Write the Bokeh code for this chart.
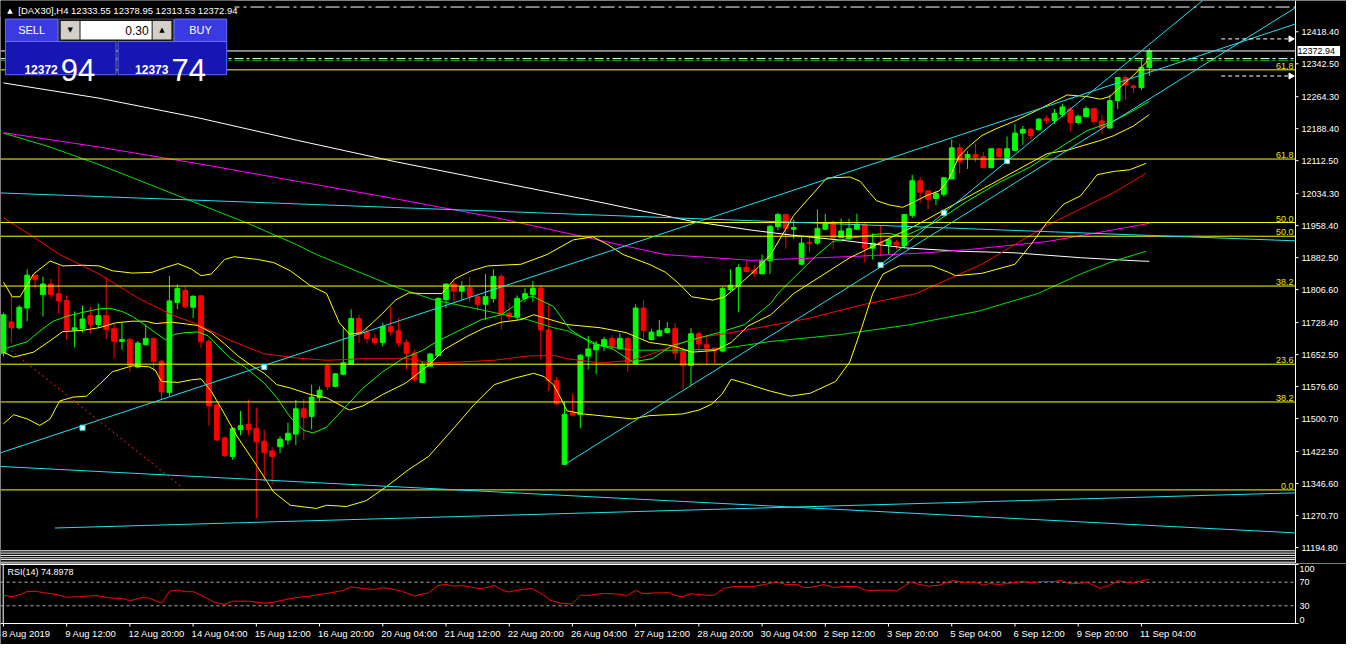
from bokeh.plotting import figure
from bokeh.models import ColumnDataSource, Range1d, Label, BoxAnnotation
from bokeh.layouts import column
from bokeh.embed import file_html
from bokeh.resources import INLINE

# ---------------- DATA ----------------
OPEN = [11656,11730,11716,11763,11841,11795,11820,11797,11781,11711,
        11714,11745,11724,11745,11714,11684,11688,11623,11676,11691,
        11637,11563,11776,11805,11765,11792,11684,11533,11455,11411,
        11475,11487,11477,11447,11424,11434,11450,11464,11524,11506,
        11550,11626,11577,11606,11630,11738,11706,11691,11681,11719,
        11709,11681,11656,11586,11625,11650,11783,11820,11803,11811,
        11790,11772,11786,11838,11751,11742,11786,11795,11810,11711,
        11591,11392,11514,11510,11649,11664,11672,11691,11666,11691,
        11631,11763,11688,11697,11705,11714,11660,11627,11702,11676,
        11668,11661,11807,11815,11859,11853,11844,11875,11956,11985,
        11950,11867,11919,11917,11950,11967,11930,11927,11950,11961,
        11905,11919,11913,11919,11911,11983,12065,12041,12023,12033,
        12069,12143,12120,12127,12122,12096,12141,12120,12137,12178,
        12187,12186,12212,12208,12222,12235,12203,12217,12236,12207,
        12190,12255,12310,12290,12286,12333.55]
HIGH = [11752,11797,11770,11855,11842,11838,11832,11863,11793,11755,
        11769,11766,11774,11837,11726,11728,11693,11685,11724,11693,
        11641,11839,11819,11814,11793,11792,11689,11536,11458,11481,
        11519,11546,11527,11474,11433,11459,11491,11545,11547,11581,
        11577,11631,11609,11719,11760,11747,11718,11701,11728,11766,
        11739,11688,11664,11637,11657,11788,11822,11828,11827,11837,
        11797,11844,11855,11844,11776,11793,11810,11827,11817,11774,
        11600,11541,11560,11653,11697,11685,11695,11698,11703,11694,
        11772,11782,11714,11735,11730,11728,11670,11716,11707,11697,
        11668,11813,11855,11867,11875,11865,11890,11960,11989,11985,
        11973,11931,11933,11997,11987,11971,11975,11975,11987,11966,
        11940,11958,11925,11925,11985,12079,12073,12041,12041,12072,
        12163,12153,12135,12153,12133,12141,12141,12170,12199,12195,
        12191,12214,12220,12235,12248,12240,12222,12242,12238,12221,
        12269,12311,12315,12293,12354,12378.95]
LOW = [11648,11680,11712,11732,11809,11743,11786,11749,11688,11670,
       11705,11703,11716,11689,11644,11664,11612,11620,11674,11612,
       11544,11554,11760,11763,11739,11668,11484,11448,11410,11403,
       11461,11461,11264,11352,11345,11419,11439,11438,11450,11475,
       11542,11569,11575,11603,11628,11680,11680,11675,11672,11698,
       11672,11617,11587,11585,11623,11649,11763,11778,11782,11778,
       11757,11735,11776,11712,11735,11735,11778,11778,11641,11566,
       11532,11392,11509,11478,11617,11606,11661,11664,11664,11612,
       11630,11688,11687,11695,11702,11640,11571,11577,11666,11631,
       11631,11658,11803,11753,11848,11837,11844,11844,11948,11904,
       11927,11865,11896,11913,11948,11902,11929,11925,11948,11871,
       11878,11886,11890,11902,11905,11977,12012,11997,12007,12027,
       12069,12082,12093,12109,12096,12096,12122,12120,12137,12151,
       12164,12184,12200,12200,12215,12182,12198,12217,12198,12176,
       12190,12235,12257,12273,12280,12313.53]
CLOSE = [11747,11716,11765,11841,11831,11820,11795,11780,11711,11716,
         11737,11724,11745,11712,11684,11688,11627,11680,11691,11637,
         11564,11780,11809,11766,11791,11683,11531,11450,11413,11477,
         11484,11475,11446,11420,11411,11452,11466,11524,11504,11552,
         11568,11577,11607,11633,11738,11701,11691,11681,11719,11707,
         11680,11656,11594,11629,11654,11786,11820,11803,11814,11790,
         11772,11790,11838,11747,11742,11786,11797,11810,11711,11591,
         11536,11511,11509,11651,11666,11676,11688,11672,11691,11634,
         11763,11710,11706,11710,11714,11656,11627,11702,11678,11668,
         11663,11809,11817,11859,11850,11845,11875,11957,11985,11952,
         11954,11917,11916,11952,11963,11929,11946,11952,11962,11905,
         11917,11917,11925,11913,11985,12065,12038,12021,12035,12072,
         12143,12110,12127,12120,12096,12141,12122,12141,12178,12187,
         12172,12211,12208,12225,12240,12203,12218,12236,12205,12190,
         12255,12310,12292,12286,12334,12372.94]

TIME_TICKS = [0, 8, 16, 24, 32, 40, 48, 56, 64, 72, 80, 88, 96, 104, 112, 120, 128, 136, 144]
TIME_LABELS = ["8 Aug 2019", "9 Aug 12:00", "12 Aug 20:00", "14 Aug 04:00", "15 Aug 12:00",
               "16 Aug 20:00", "20 Aug 04:00", "21 Aug 12:00", "22 Aug 20:00", "26 Aug 04:00",
               "27 Aug 12:00", "28 Aug 20:00", "30 Aug 04:00", "2 Sep 12:00", "3 Sep 20:00",
               "5 Sep 04:00", "6 Sep 12:00", "9 Sep 20:00", "11 Sep 04:00"]
PRICE_TICKS = [11194.8, 11270.7, 11346.6, 11422.5, 11500.7, 11576.6, 11652.5, 11728.4, 11806.6,
               11882.5, 11958.4, 12034.3, 12112.5, 12188.4, 12264.3, 12342.5, 12418.4]

# Bollinger upper / middle / lower (yellow)
BBU_BAR = [0,1.1,2.1,3.8,5.9,7.5,10,12.1,13.8,16.3,18.8,20.5,22.1,23.8,25,26.3,28,29.2,32.1,34.2,
           36.3,38.8,40.9,42.5,43.8,45.3,46.7,48,49.6,51.3,53,55.5,57.1,59.2,61.3,65.5,68.8,72.1,74.6,76.5,
           78.4,81.7,83.8,85.5,87.1,89.8,91.3,93,95.5,97.1,100,104.2,107.1,108.4,109.6,110.5,112.1,113.8,115,116.7,
           118.4,119.6,120.9,122.1,123.8,125.5,128,130.9,134.6,137.1,138.8,140,140.9,143,144.6,145]
BBU_P = [11824.5,11789.7,11789.7,11843.7,11874.6,11863,11864.6,11863,11851.4,11846,
         11847.7,11859.3,11868.5,11855.3,11839.8,11843.7,11878.5,11884.7,11878.5,11870.8,
         11851.4,11816.6,11797.4,11727.9,11700.7,11704.7,11727.9,11751,11781.9,11799,
         11797.4,11797.4,11832.1,11851.4,11863,11866.9,11890.1,11924.8,11931.8,11913.2,
         11890.1,11866.9,11847.7,11820.5,11789.7,11781.9,11789.7,11816.6,11859.3,11890.1,
         11982.8,12071.5,12073.8,12063.9,12036.8,12017.5,12007.6,12002,12012.2,12029.1,
         12040.7,12067.8,12121.8,12145,12172.1,12187.4,12206.9,12233,12268.5,12264.8,
         12258.5,12264.8,12280.1,12314.9,12345.9,12358.2]
BBM_BAR = [0,1.3,3.8,5.9,7.5,10,12.1,14.2,16.3,18,19.2,21.3,23,24.6,26.3,28,29.6,31.3,33,34.6,
           36.3,38.8,40.9,43.8,45.5,48,50.9,53.8,55.9,58.8,60.9,63,65.5,67.1,71.3,75.5,78.8,81.7,84.6,87.1,
           90,92.1,94.2,97.1,100,107.1,115.5,123.8,132.1,134.6,138.8,140.5,143,145]
BBM_P = [11658.3,11646.7,11658.3,11685.4,11707,11710,11716.3,11727.9,11731.8,11731.8,
         11726.2,11729.5,11725.5,11721.6,11704.7,11677.6,11650.7,11627.5,11608.1,11581.2,
         11573.3,11558,11550.1,11520.9,11530.9,11558,11585,11627.5,11666,11697,
         11716.3,11729.5,11735.5,11747.1,11723.9,11716.3,11704.7,11681.5,11673.8,11658.3,
         11662.3,11681.5,11720.2,11747.1,11797.4,11882.4,11959.6,12044.7,12129.5,12137.3,
         12160.5,12172,12195,12222]
BBL_BAR = [0,1.3,3,4.6,5.9,7.1,8.8,10.5,12.1,13.8,16.3,18.4,19.2,20,22.1,23.8,25,26.3,27.5,29.6,
           32.1,34.2,36.3,39.6,40.9,43.4,45.9,48.4,51.3,53.8,57.1,59.6,62.1,64.6,67.1,68.4,69.6,70.5,71.3,73.4,
           75.5,79.6,81.7,85.9,88,89.6,90.9,92.1,93.8,97.1,99.6,102.1,105.3,107.1,108.6,110,111.3,113.4,117.5,119.6,
           120.5,123.8,128,130,132.1,134.2,136.3,138.4,140.5,142.5,144.6]
BBL_P = [11488.4,11510,11500,11484.5,11500,11542.5,11551.7,11554,11581.2,11612,
         11625.9,11623.6,11615.9,11588.8,11586.5,11592.8,11595.1,11565.6,11526.9,11457.4,
         11387.9,11326.3,11295.2,11287.6,11295.2,11292.2,11306,11338.5,11380.2,11411,
         11480.6,11534.8,11581.2,11596.4,11608.1,11600.4,11581.2,11550.1,11519.3,11511.7,
         11507.7,11500,11507.7,11511.7,11520.9,11534.8,11558,11594.1,11584.9,11565.6,
         11554,11561,11588.8,11635.2,11716.3,11797.4,11843.7,11863,11863,11847.7,
         11839.8,11845.3,11866.9,11913.2,11967.3,12009.9,12029.1,12079.4,12087.1,12091,
         12106.3]
# fast green MA
GF_BAR = [0,3,4.6,6.3,8,10,12.1,13.4,15,16.3,18,19.2,20.5,21.7,23,24.6,25.9,27.1,28.8,30.5,
          33,34.6,36.3,38,39.2,40.9,43.4,45.5,48,50.5,53,55,56.7,58.4,60.5,63,66.3,67.1,69.6,71.7,
          74.2,77.1,79.6,82.1,84.6,86.7,90.5,93.8,97.1,98,103,105,107.1,110.5,112.1,113.8,118,121.7,125.9,130,
          134.2,137.1,140,142.1,145]
GF_P = [11666,11683.1,11708.6,11731.8,11743.4,11752.6,11761,11762.6,11755,11743.4,
        11721.6,11704.7,11687.8,11700.7,11704.7,11706.3,11697.1,11673.8,11642.8,11623.6,
        11584.9,11550.1,11503.8,11472.9,11466.7,11480.6,11530.9,11573.3,11612,11642.8,
        11662.3,11685.4,11700.7,11716.3,11735.5,11747.1,11789.7,11789.7,11766.6,11712.3,
        11681.5,11666,11635.2,11642.8,11673.8,11685.4,11704.7,11723.9,11774.2,11797.4,
        11890.1,11920.9,11928.8,11938,11940.4,11931.8,11967.3,12013.6,12060,12098.6,
        12150,12183.7,12202.9,12222.2,12253.2]
# slow green MA
GS_BAR = [0,5.9,12.1,18.4,24.6,30.9,37.1,39.6,49.6,54.6,60.5,66.3,69.6,71.3,75.5,79.6,85.9,90.5,97.1,105.9,
          114.6,123.4,130.9,136.3,140.5,144.6]
GS_P = [12178,12145,12103.3,12056.9,12010.6,11964.2,11913.2,11890.1,11812.9,11781.9,
        11758.7,11735.5,11716.3,11709.3,11674.6,11663,11663,11665.3,11683.8,11700,
        11723.2,11755.7,11797.4,11843.7,11874.6,11897.7]
# red MA
RM_BAR = [0,3.4,7.1,12.1,17.1,21.3,24.6,28.8,33,37.1,40.9,45.5,51.3,53.8,58,62.1,66.3,69.6,71.3,75.5,
          79.6,83.8,88,92.1,97.1,102.1,108.4,115.5,123.8,132.1,140.5,144.6]
RM_P = [11977,11936.4,11890.1,11843.7,11785.8,11747.1,11723.9,11685.4,11654.4,11644.4,
        11639.1,11642.8,11642.8,11632.8,11635.2,11639.1,11649.1,11650.7,11642.8,11632.8,
        11639.1,11666,11693.1,11704.7,11721.6,11739.4,11769.6,11797.4,11866.9,11959.6,
        12036.8,12083.1]
# white MA
WM_BAR = [0,12.1,24.6,37.1,49.6,62.1,74.6,87.1,94.6,99.6,106.7,114.2,121.3,128,136.3,143.8,145]
WM_P = [12297,12260.9,12214.5,12161.2,12110.2,12063.9,12017.5,11968.9,11948,11936.4,
        11922.5,11905.6,11897.7,11894,11882.4,11874.6,11873.9]
# magenta MA
MG_BAR = [0,12.1,24.6,37.1,49.6,62.1,74.6,83.6,94.6,101.3,108.4,116.7,122.1,132.1,138,145]
MG_P = [12179,12145,12105.6,12063.9,12022.2,11978.2,11927.2,11890.1,11876.2,11880.8,
        11886.2,11894,11901.7,11920.9,11940.3,11964]

# trendlines (cyan): start bar, start price, end bar, end price
TR_X0 = [-0.375, -0.375, 6.5, -0.375, 71, 111]
TR_Y0 = [12036.1, 11387.2, 11241.2, 11419.6, 11391.8, 11865.3]
TR_X1 = [163.5, 163.5, 163.5, 163.5, 163.5, 151.75]
TR_Y1 = [11922.5, 11229.6, 11324.6, 12437.0, 12475.7, 12492.6]
# red dotted line
RD_X = [0.46, 22.75]
RD_Y = [11669.9, 11335.5]
# anchor squares
MARK_BAR = [10, 33, 111, 119, 127]
MARK_P = [11479.2, 11622.9, 11865.3, 11989.0, 12111.9]

# Fibonacci levels
FIB_LEVELS = [12328.1, 12116.5, 11965.9, 11933.4, 11815.2, 11629.8, 11540.2, 11331.6]
FIB_TEXT = ["61.8", "61.8", "50.0", "50.0", "38.2", "23.6", "38.2", "0.0"]

BID = 12372.94
ORDER_LEVEL = 12354.7
ORDER_LEVEL_2 = 12350.5
TOP_LEVEL = 12477.1
ARROW_LEVELS = [12401.5, 12313.5]
ARROW_BAR0, ARROW_BAR1 = 154.1, 162.9

# RSI(14)
RSI_BAR = [0,1,2,3,4.2,5,6.7,8,9.6,11.7,13.8,15,16,17.5,18.4,20,21,22,23,24,25,26,26.7,28,29,31,33,34,35.5,37,
           39,40,41,43,44,45.5,47,48,49,50.5,52,53.8,55,56,57,58,59.6,60.5,62.1,63.2,64,65,66.9,68.4,69.2,70.5,71.9,73,
           74.2,75.5,76.7,78,78.8,80,80.9,82.1,84.2,85,85.9,86.9,88.8,90,91.1,92.5,94.6,96.3,97.8,99,100.5,101.3,102.1,
           103.8,105,106.7,108,109.2,110,112.1,113,113.8,114.8,115.9,117.1,118.4,120,121.3,123,124,124.8,125.9,127.1,
           128.8,130,131.3,133,133.8,135,136.3,137.1,138.8,140,141,142.1,142.9,143.8,145]
RSI_VAL = [47.8,45.6,48.3,54.4,54.4,52.2,49.4,44.4,45.6,47.2,42.8,42.8,38.3,43.9,43.3,34.4,55.0,56.7,53.9,53.9,
           47.8,41.1,35.6,32.2,37.8,37.8,34.4,35.6,40.0,43.9,46.7,49.4,51.1,56.1,62.2,58.9,57.8,60.6,58.9,54.4,
           46.7,52.2,64.4,66.1,63.3,64.4,60.6,58.9,64.4,56.1,53.3,56.7,59.4,47.8,39.4,34.4,32.8,47.8,
           47.8,50.6,50.6,49.4,46.7,56.1,50.6,51.7,52.2,47.8,45.0,50.6,47.8,48.3,59.4,62.8,62.2,66.1,70.6,66.1,65.6,61.1,61.1,
           66.1,61.1,62.8,62.8,56.1,56.1,56.7,55.0,61.7,70.6,66.1,63.3,65.0,72.8,70.0,70.0,65.0,67.8,66.1,67.8,
           71.1,68.9,71.1,71.1,73.3,67.2,68.3,70.0,59.4,65.0,72.8,70.0,68.3,71.7,74.9]
RSI_LEVELS = [70, 30]
RSI_SCALE = [100, 70, 30, 0]

# ---------------- LAYOUT ----------------
FONT = "Liberation Sans"
FULL_W = 1346
PLOT_W = 1295                      # width of the chart area left of the price scale
PRICE_H = 549                      # height of the price area
SEP_PX = 14                        # separator strip below it
MAIN_FH = PRICE_H + SEP_PX
RSI_PAD, RSI_PX, BOT_PX = 1, 59, 21
RSI_FH = RSI_PAD + RSI_PX + BOT_PX
SX = PLOT_W / 1311.0
SY = PRICE_H / 562.0

X_START, X_END = -0.375, 163.5
BPX = PLOT_W / (X_END - X_START)   # pixels per bar
X_FULL = X_START + FULL_W / BPX
P_LOW, P_HIGH = 11190.2, 12492.6
PP = (P_HIGH - P_LOW) / PRICE_H    # price per pixel
RP = 100.0 / RSI_PX                # rsi units per pixel


def bx(n):
    return n / BPX


def scr_x(px):
    return px * SX


def scr_y(py):
    return MAIN_FH - py * SY


xr = Range1d(X_START, X_FULL)
common = dict(output_backend="svg", toolbar_location=None, x_axis_location=None, y_axis_location=None,
              background_fill_color="black", border_fill_color="black", outline_line_color=None,
              min_border_left=0, min_border_right=0, min_border_top=0, min_border_bottom=0)

p = figure(frame_width=FULL_W, frame_height=MAIN_FH, x_range=xr,
           y_range=Range1d(P_HIGH - MAIN_FH * PP, P_HIGH), **common)
p.grid.visible = False

# candles
idx = list(range(len(OPEN)))
cols = ["#00ff00" if c >= o else "#ff0000" for o, c in zip(OPEN, CLOSE)]
src = ColumnDataSource(dict(x=idx, h=HIGH, l=LOW,
                            top=[max(o, c) for o, c in zip(OPEN, CLOSE)],
                            bot=[min(o, c) for o, c in zip(OPEN, CLOSE)], col=cols))
p.segment(x0="x", y0="l", x1="x", y1="h", line_color="col", line_width=1, source=src)
p.vbar(x="x", width=0.6, top="top", bottom="bot", fill_color="col", line_color="col", line_width=1, source=src)

# indicators
p.line(WM_BAR, WM_P, line_color="white", line_width=1)
p.line(MG_BAR, MG_P, line_color="#ff00ff", line_width=1)
p.line(GS_BAR, GS_P, line_color="#00e000", line_width=1)
p.line(RM_BAR, RM_P, line_color="#ff0000", line_width=1)
p.line(BBU_BAR, BBU_P, line_color="#ffff00", line_width=1)
p.line(BBM_BAR, BBM_P, line_color="#ffff00", line_width=1)
p.line(BBL_BAR, BBL_P, line_color="#ffff00", line_width=1)
p.line(GF_BAR, GF_P, line_color="#00ff00", line_width=1)

# horizontal objects (end at the price scale)
n_f = len(FIB_LEVELS)
p.segment(x0=[X_START] * n_f, x1=[X_END] * n_f, y0=FIB_LEVELS, y1=FIB_LEVELS, line_color="#ffff00", line_width=1)
p.segment(x0=[X_START], x1=[X_END], y0=[BID], y1=[BID], line_color="white", line_width=1)
p.segment(x0=[X_START], x1=[X_END], y0=[ORDER_LEVEL], y1=[ORDER_LEVEL], line_color="white",
          line_width=1, line_dash="9 3 3 3")
p.segment(x0=[X_START], x1=[X_END], y0=[ORDER_LEVEL_2], y1=[ORDER_LEVEL_2], line_color="#00c000",
          line_width=1, line_dash="9 3 3 3")
p.segment(x0=[X_START], x1=[X_END], y0=[TOP_LEVEL], y1=[TOP_LEVEL], line_color="white",
          line_width=1, line_dash="14 4 3 4")

# trendlines etc.
p.segment(x0=TR_X0, y0=TR_Y0, x1=TR_X1, y1=TR_Y1, line_color="#20e0f0", line_width=1)
p.line(RD_X, RD_Y, line_color="#ff2020", line_width=1, line_dash="2 3")
p.scatter(MARK_BAR, MARK_P, marker="square", size=5, fill_color="white", line_color="#20e0f0")
p.segment(x0=[ARROW_BAR0] * 2, x1=[ARROW_BAR1] * 2, y0=ARROW_LEVELS, y1=ARROW_LEVELS,
          line_color="white", line_dash="4 3", line_width=1)
p.scatter([ARROW_BAR1] * 2, ARROW_LEVELS, marker="triangle", angle=-1.5708, size=6,
          fill_color="white", line_color="white")

# separator strip under the price area
sep_lv = [P_LOW - d * PP for d in [1.3, 3.6, 5.9, 8.3, 10.1, 12.7]]
p.segment(x0=[X_START] * len(sep_lv), x1=[X_END] * len(sep_lv), y0=sep_lv, y1=sep_lv,
          line_color="white", line_width=1)

# price scale (drawn by hand so that the bid box can sit on it)
y_bot = P_HIGH - MAIN_FH * PP
p.segment(x0=[X_END], x1=[X_END], y0=[y_bot], y1=[P_HIGH], line_color="white", line_width=1)
n_t = len(PRICE_TICKS)
p.segment(x0=[X_END] * n_t, x1=[X_END + bx(3)] * n_t, y0=PRICE_TICKS, y1=PRICE_TICKS,
          line_color="white", line_width=1)
for t in PRICE_TICKS:
    p.add_layout(Label(x=PLOT_W + 6, y=t, x_units="screen", y_units="data", text="%.2f" % t,
                       text_align="left", text_baseline="middle", text_color="white",
                       text_font=FONT, text_font_size="9px"))

for lv, t in zip(FIB_LEVELS, FIB_TEXT):
    p.add_layout(Label(x=scr_x(1309), y=lv, x_units="screen", y_units="data", text=t,
                       text_align="right", text_baseline="bottom", y_offset=1,
                       text_color="#e8e800", text_font=FONT, text_font_size="9px"))

# current price box on the scale
p.add_layout(Label(x=PLOT_W + 2, y=BID, x_units="screen", y_units="data", text=" 12372.94 ",
                   text_align="left", text_baseline="middle", text_color="black",
                   background_fill_color="white", background_fill_alpha=1.0,
                   text_font=FONT, text_font_size="9px"))


def sbox(l, t, r_, b, fill, line=None):
    p.add_layout(BoxAnnotation(left=scr_x(l), right=scr_x(r_), top=scr_y(t), bottom=scr_y(b),
                               left_units="screen", right_units="screen",
                               top_units="screen", bottom_units="screen",
                               fill_color=fill, fill_alpha=1.0,
                               line_color=line, line_alpha=1.0 if line else 0.0, line_width=1))


def slabel(x, y, text, color="white", size="9px", align="left", base="middle", font=FONT, style="normal"):
    p.add_layout(Label(x=scr_x(x), y=scr_y(y), x_units="screen", y_units="screen", text=text,
                       text_align=align, text_baseline=base, text_color=color,
                       text_font=font, text_font_size=size, text_font_style=style))


# header
sbox(0, 0, 237, 17, "black")
slabel(9.5, 10.5, "\u25b2", size="7px", align="center", font="DejaVu Sans")
slabel(18, 10.5, "[DAX30],H4  12333.55 12378.95 12313.53 12372.94", size="9.5px")

# one-click trading panel
sbox(59, 19, 175, 42, "#181818", "#505050")
sbox(61, 21, 80, 40, "#d4d0c8")
sbox(81, 21, 153, 40, "white")
sbox(154, 21, 173, 40, "#d4d0c8")
sbox(5, 19, 58, 42, "#3a3ae2", "#6a6aff")
sbox(176, 19, 229, 42, "#3a3ae2", "#6a6aff")
sbox(5, 42, 117, 76, "#1616b2", "#6a6aff")
sbox(119, 42, 229, 76, "#1616b2", "#6a6aff")
slabel(31.5, 30.5, "SELL", size="11px", align="center")
slabel(202.5, 30.5, "BUY", size="11px", align="center")
slabel(70.5, 30.5, "\u25bc", color="black", size="7px", align="center", font="DejaVu Sans")
slabel(163.5, 30.5, "\u25b2", color="black", size="7px", align="center", font="DejaVu Sans")
slabel(150, 30.5, "0.30", color="black", size="12px", align="right")
slabel(58, 70.5, "12372", size="12px", align="right", base="alphabetic", style="bold")
slabel(61, 71, "94", size="31px", align="left", base="alphabetic")
slabel(170, 70.5, "12373", size="12px", align="right", base="alphabetic", style="bold")
slabel(173, 71, "74", size="31px", align="left", base="alphabetic")

# ---------------- RSI ----------------
r_top = 100 + RSI_PAD * RP
r_bot = -BOT_PX * RP
r = figure(frame_width=FULL_W, frame_height=RSI_FH, x_range=xr, y_range=Range1d(r_bot, r_top), **common)
r.grid.visible = False

left_edge = X_START + bx(2.7)
r.segment(x0=[X_START, X_START, left_edge, X_END], x1=[X_END, X_END, left_edge, X_END],
          y0=[100, 0, 0, 0], y1=[100, 0, 100, 100], line_color="white", line_width=1)
r.segment(x0=[X_START] * 2, x1=[X_END] * 2, y0=RSI_LEVELS, y1=RSI_LEVELS,
          line_color="#b0b0b0", line_width=1, line_dash="3 3")
r.line(RSI_BAR, RSI_VAL, line_color="#ff0000", line_width=1)
# scale ticks and time ticks
r.segment(x0=[X_END] * 2, x1=[X_END + bx(3)] * 2, y0=[100, 0], y1=[100, 0], line_color="white", line_width=1)
n_x = len(TIME_TICKS)
r.segment(x0=TIME_TICKS, x1=TIME_TICKS, y0=[0] * n_x, y1=[-3 * RP] * n_x, line_color="white", line_width=1)

r.add_layout(Label(x=scr_x(7), y=RSI_FH - RSI_PAD - 7.5, x_units="screen", y_units="screen",
                   text="RSI(14) 74.8978", text_align="left", text_baseline="middle", text_color="white",
                   text_font=FONT, text_font_size="9px"))
for v in RSI_SCALE:
    if v == 100:
        base, off = "top", -1
    elif v == 0:
        base, off = "bottom", 1
    else:
        base, off = "middle", 0
    r.add_layout(Label(x=PLOT_W + 4, y=v, x_units="screen", y_units="data", text=str(v),
                       text_align="left", text_baseline=base, y_offset=off, text_color="white",
                       text_font=FONT, text_font_size="9px"))
for t, s in zip(TIME_TICKS, TIME_LABELS):
    r.add_layout(Label(x=t, y=-10 * RP, x_units="data", y_units="data", text=s, x_offset=-1.5,
                       text_align="left", text_baseline="middle", text_color="white",
                       text_font=FONT, text_font_size="9.5px"))

layout = column(p, r, spacing=0)
open("out.html", "w").write(file_html(layout, INLINE, title="DAX30 H4"))
